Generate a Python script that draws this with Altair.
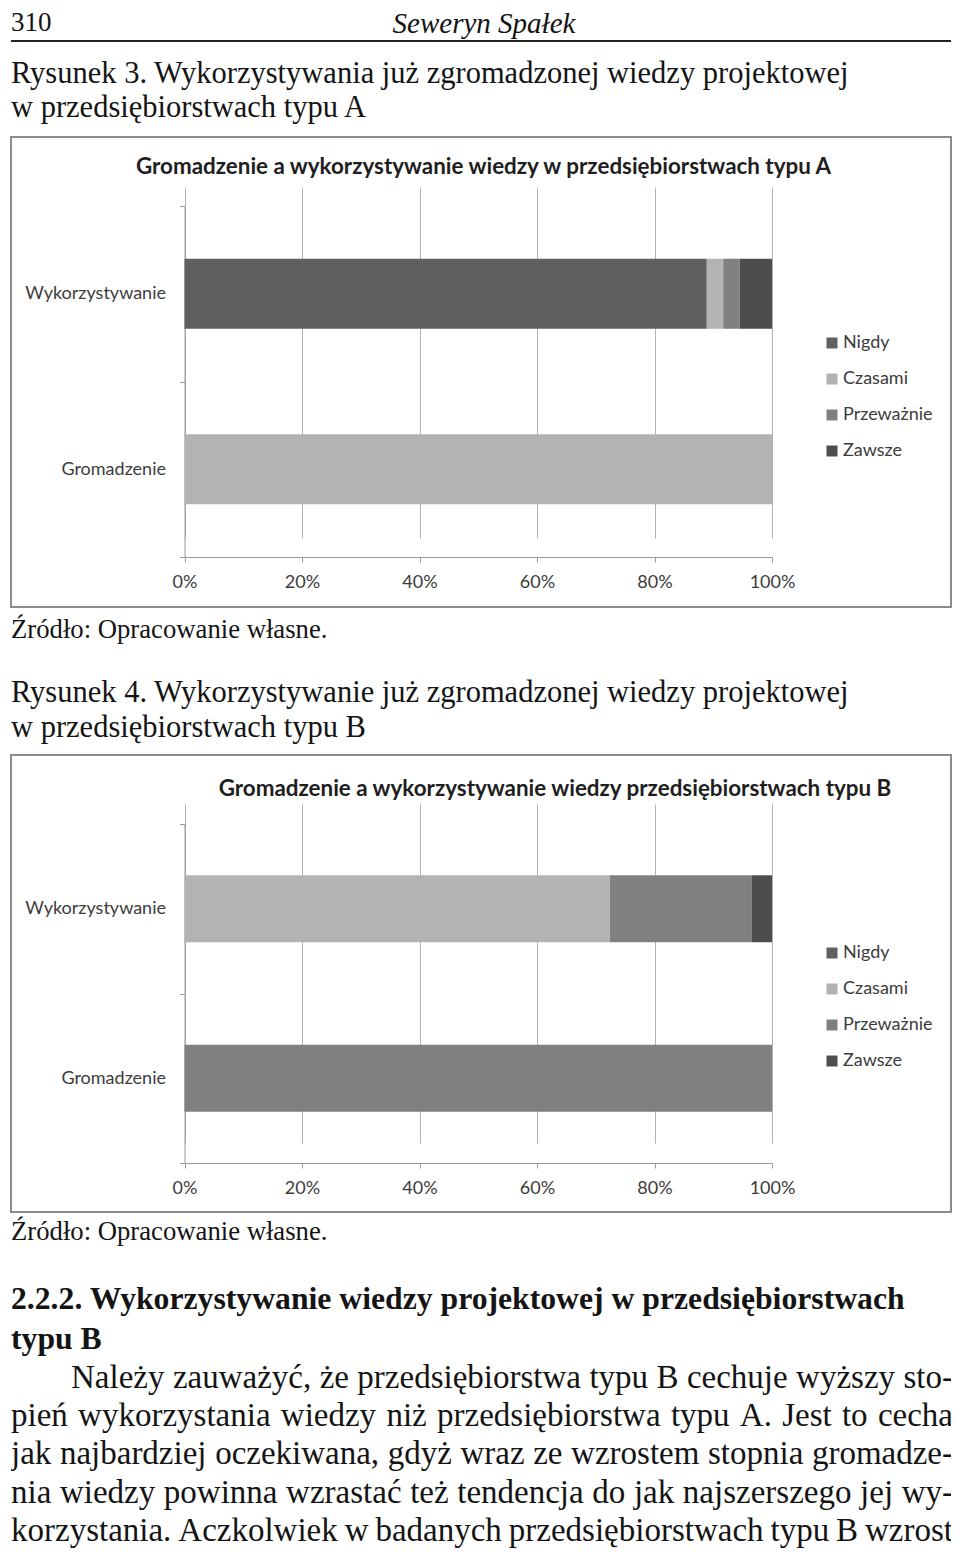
import altair as alt
import pandas as pd

# ---------------- data ----------------
categories = ["Nigdy", "Czasami", "Przeważnie", "Zawsze"]
colors = ["#606060", "#b3b3b3", "#808080", "#4d4d4d"]
rows = ["Wykorzystywanie", "Gromadzenie"]

a_wykorzystywanie = [88.9, 2.8, 2.8, 5.5]
a_gromadzenie = [0.0, 100.0, 0.0, 0.0]
b_wykorzystywanie = [0.0, 72.4, 24.1, 3.5]
b_gromadzenie = [0.0, 0.0, 100.0, 0.0]

x_ticks = [0, 0.2, 0.4, 0.6, 0.8, 1.0]

title_a = "Gromadzenie a wykorzystywanie wiedzy w przedsiębiorstwach typu A"
title_b = "Gromadzenie a wykorzystywanie wiedzy przedsiębiorstwach typu B"

header_page = "310"
header_author = "Seweryn Spałek"
caption3 = ["Rysunek 3. Wykorzystywania już zgromadzonej wiedzy projektowej",
            "w przedsiębiorstwach typu A"]
caption4 = ["Rysunek 4. Wykorzystywanie już zgromadzonej wiedzy projektowej",
            "w przedsiębiorstwach typu B"]
source = "Źródło: Opracowanie własne."
section = ["2.2.2. Wykorzystywanie wiedzy projektowej w przedsiębiorstwach",
           "typu B"]
paragraph = [
    "Należy zauważyć, że przedsiębiorstwa typu B cechuje wyższy sto-",
    "pień wykorzystania wiedzy niż przedsiębiorstwa typu A. Jest to cecha",
    "jak najbardziej oczekiwana, gdyż wraz ze wzrostem stopnia gromadze-",
    "nia wiedzy powinna wzrastać też tendencja do jak najszerszego jej wy-",
    "korzystania. Aczkolwiek w badanych przedsiębiorstwach typu B wzrost",
]

SERIF = "Liberation Serif"
SANS = "Lato"
W = 940
TXT = "#141414"
AX = "#3c3c3c"

# Times / Liberation Serif advance widths (1/1000 em) for justification
_TW = dict(a=444, b=500, c=444, d=500, e=444, f=333, g=500, h=500, i=278,
           j=278, k=500, l=278, m=778, n=500, o=500, p=500, q=500, r=333,
           s=389, t=278, u=500, v=500, w=722, x=500, y=500, z=444)
_TW.update({"ą": 444, "ę": 444, "ć": 444, "ł": 278, "ń": 500, "ó": 500,
            "ś": 389, "ż": 444, "ź": 444, "N": 722, "B": 667, "A": 722,
            "J": 389, ",": 250, ".": 250, "-": 333})


def make_df(wyk, gro):
    recs = []
    for r, vals in zip(rows, [wyk, gro]):
        for i, (c, v) in enumerate(zip(categories, vals)):
            recs.append({"row": r, "cat": c, "rank": i, "value": v})
    return pd.DataFrame(recs)


def txt(s, x, y, size, font=SERIF, weight="normal", style="normal",
        align="left", color=TXT, baseline="alphabetic", clip=True):
    return alt.Chart(pd.DataFrame({"t": [s]})).mark_text(
        align=align, baseline=baseline, font=font, fontSize=size,
        fontWeight=weight, fontStyle=style, color=color, clip=clip
    ).encode(text="t:N", x=alt.value(x), y=alt.value(y))


def justified(line, x0, x1, y, size):
    words = line.split(" ")
    widths = [sum(_TW.get(ch, 500) for ch in w) * size / 1000 for w in words]
    gap = (x1 - x0 - sum(widths)) / (len(words) - 1)
    out = []
    x = x0
    for k, (w, wd) in enumerate(zip(words, widths)):
        if k == len(words) - 1:
            out.append(txt(w, x1, y, size, align="right"))
        else:
            out.append(txt(w, x, y, size))
        x += wd + gap
    return out


def bar_panel(df, title, title_x, title_y, height, y_bottom, legend_y, bar_h):
    bars = alt.Chart(df).mark_bar(strokeWidth=0, size=bar_h).encode(
        x=alt.X("value:Q", stack="normalize",
                scale=alt.Scale(range=[173.5, 761]),
                axis=alt.Axis(format="%", values=x_ticks, orient="bottom",
                              offset=-(height - y_bottom), grid=True,
                              gridColor="#b3b3b3", gridWidth=1,
                              domainColor="#9a9a9a", tickColor="#9a9a9a",
                              tickSize=5, labelPadding=11, labelFontSize=18,
                              labelFont=SANS, labelColor=AX, labelFlush=False,
                              labelOverlap=False, title=None)),
        y=alt.Y("row:N", sort=rows,
                scale=alt.Scale(range=[69, y_bottom], paddingInner=0,
                                paddingOuter=0),
                axis=alt.Axis(orient="left", offset=-173.5, tickBand="extent",
                              domainColor="#9a9a9a", tickColor="#9a9a9a",
                              tickSize=5, labelPadding=14, labelFontSize=18,
                              labelFont=SANS, labelColor=AX,
                              grid=False, title=None)),
        color=alt.Color("cat:N",
                        scale=alt.Scale(domain=categories, range=colors),
                        legend=alt.Legend(orient="none", legendX=812,
                                          legendY=legend_y, title=None,
                                          symbolType="square", symbolSize=121,
                                          symbolStrokeWidth=0, padding=0,
                                          labelFont=SANS, labelFontSize=18,
                                          labelColor=AX, rowPadding=18,
                                          labelOffset=2)),
        order=alt.Order("rank:Q"),
    )
    ttl = txt(title, title_x, title_y, 22.4, font=SANS, weight="bold",
              align="center", color="#1e1e1e", baseline="middle")
    return alt.layer(bars, ttl).properties(
        width=W, height=height,
        view=alt.ViewBackground(stroke="#8c8c8c", strokeWidth=2, fill="white"),
    )


rule_df = pd.DataFrame({"a": [0]})
header_rule = alt.Chart(rule_df).mark_rule(
    color="#222222", strokeWidth=2, clip=True
).encode(x=alt.value(-2), x2=alt.value(W + 2), y=alt.value(31))

panel1 = alt.layer(
    txt(header_page, 0, 0, 27, baseline="top", clip=False),
    txt(header_author, 473, 0, 29, style="italic", align="center",
        baseline="top", clip=False),
    header_rule,
    txt(caption3[0], 0, 73, 30.5),
    txt(caption3[1], 0, 107, 30.5),
).properties(width=W, height=127)

panel2 = bar_panel(make_df(a_wykorzystywanie, a_gromadzenie), title_a,
                   472.5, 30, 470, 420, 197, 70)

panel3 = alt.layer(
    txt(source, 0, 31, 26.7),
    txt(caption4[0], 0, 95, 30.5),
    txt(caption4[1], 0, 130, 30.5),
).properties(width=W, height=148)

panel4 = bar_panel(make_df(b_wykorzystywanie, b_gromadzenie), title_b,
                   544, 34, 457, 408, 189, 67)

p5_layers = [
    txt(source, 0, 28, 26.7),
    txt(section[0], 0, 97, 31.7, weight="bold"),
    txt(section[1], 0, 137, 31.7, weight="bold"),
]
line_y = [176, 214, 252, 290.5, 329]
p5_layers += justified(paragraph[0], 60, 942, line_y[0], 33)
for k, line in enumerate(paragraph[1:]):
    p5_layers += justified(line, 0, 942, line_y[k + 1], 33)

panel5 = alt.layer(*p5_layers).properties(width=W, height=337)

chart = alt.vconcat(
    panel1, panel2, panel3, panel4, panel5, spacing=0, bounds="flush"
).resolve_scale(color="independent").properties(
    padding={"left": 2, "top": 0, "right": 0, "bottom": 0},
    background="white",
).configure_view(stroke="transparent")

chart.save("out.html", embed_options={"renderer": "svg", "actions": False})
